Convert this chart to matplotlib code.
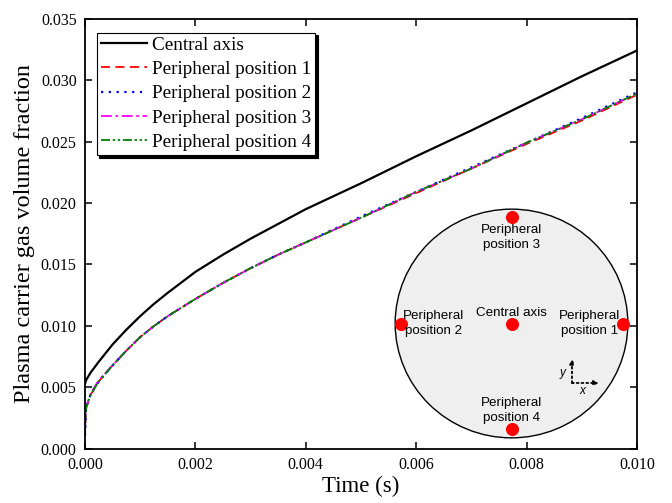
"""Carrier gas volume fraction at the central axis and four peripheral probes."""
import matplotlib
matplotlib.use("Agg")
import matplotlib.pyplot as plt
from matplotlib.patches import Circle
from matplotlib.ticker import FormatStrFormatter

# time samples (s)
time_s = [0.0, 0.00002, 0.0001, 0.00025, 0.0005, 0.00075, 0.001, 0.00125, 0.0015,
          0.002, 0.0025, 0.003, 0.0035, 0.004, 0.005, 0.006, 0.007, 0.008, 0.009, 0.010]

central_axis = [0.0053, 0.0056, 0.0062, 0.0071, 0.0085, 0.0097, 0.0108, 0.0118, 0.0127,
                0.0144, 0.0158, 0.0171, 0.0183, 0.0195, 0.0216, 0.0238, 0.0259, 0.0281,
                0.0303, 0.0324]
peripheral_1 = [0.0020, 0.0033, 0.0044, 0.0055, 0.0068, 0.0080, 0.0091, 0.0100, 0.0108,
                0.0122, 0.0135, 0.0147, 0.0158, 0.0168, 0.0188, 0.0208, 0.0228, 0.0248,
                0.0267, 0.0288]
peripheral_2 = [0.0011, 0.0034, 0.0044, 0.0055, 0.0068, 0.0080, 0.0091, 0.0100, 0.0108,
                0.0122, 0.0135, 0.0147, 0.0158, 0.0168, 0.0189, 0.0209, 0.0229, 0.0249,
                0.0269, 0.0290]
peripheral_3 = [0.0015, 0.0034, 0.0045, 0.0056, 0.0068, 0.0080, 0.0091, 0.0100, 0.0108,
                0.0122, 0.0135, 0.0147, 0.0158, 0.0168, 0.0188, 0.0209, 0.0228, 0.0249,
                0.0268, 0.0289]
peripheral_4 = [0.0012, 0.0034, 0.0044, 0.0055, 0.0068, 0.0080, 0.0091, 0.0100, 0.0108,
                0.0122, 0.0135, 0.0147, 0.0158, 0.0168, 0.0188, 0.0209, 0.0228, 0.0249,
                0.0268, 0.0289]

series_labels = ["Central axis", "Peripheral position 1", "Peripheral position 2",
                 "Peripheral position 3", "Peripheral position 4"]

# probe layout in the cross-section sketch (unit circle)
probe_names = ["Central axis", "Peripheral\nposition 1", "Peripheral\nposition 2",
               "Peripheral\nposition 3", "Peripheral\nposition 4"]
probe_x = [0.0, 0.96, -0.95, 0.0, 0.0]
probe_y = [0.0, 0.0, 0.0, 0.93, -0.92]
label_x = [0.0, 0.67, -0.67, 0.0, 0.0]
label_y = [0.09, 0.0, 0.0, 0.75, -0.76]

serif = ["Liberation Serif", "DejaVu Serif"]
sans = ["Liberation Sans", "DejaVu Sans"]
plt.rcParams["font.family"] = serif

fig = plt.figure(figsize=(6.72, 5.03), dpi=100)
ax = fig.add_axes([0.1265, 0.1074, 0.8214, 0.8558])

styles = [
    dict(color="black", linestyle="-", linewidth=1.6),
    dict(color="#ff0000", linestyle=(0, (5, 3)), linewidth=1.3),
    dict(color="#0000ff", linestyle=(0, (1, 2.5)), linewidth=1.6),
    dict(color="#ff00ff", linestyle=(0, (6, 2, 1.5, 2)), linewidth=1.3),
    dict(color="#008000", linestyle=(0, (5, 1.5, 1.3, 1.5, 1.3, 1.5)), linewidth=1.3),
]
all_series = [central_axis, peripheral_1, peripheral_2, peripheral_3, peripheral_4]
for values, label, st in zip(all_series, series_labels, styles):
    ax.plot(time_s, values, label=label, **st)

ax.set_xlim(0, 0.010)
ax.set_ylim(0, 0.035)
ax.set_xticks([0.0, 0.002, 0.004, 0.006, 0.008, 0.010])
ax.set_yticks([0.0, 0.005, 0.010, 0.015, 0.020, 0.025, 0.030, 0.035])
ax.xaxis.set_major_formatter(FormatStrFormatter("%.3f"))
ax.yaxis.set_major_formatter(FormatStrFormatter("%.3f"))
ax.tick_params(direction="in", length=5, width=1.1, top=True, right=True,
               labelsize=11.5, pad=6)
for sp in ax.spines.values():
    sp.set_linewidth(1.3)

ax.set_xlabel("Time (s)", fontsize=16.5, labelpad=2)
ax.set_ylabel("Plasma carrier gas volume fraction", fontsize=17.5, labelpad=4)

leg = ax.legend(loc="upper left", bbox_to_anchor=(96.7 / 672, 1 - 32.5 / 503),
                bbox_transform=fig.transFigure, borderaxespad=0,
                prop={"size": 13.8}, fancybox=False,
                shadow={"color": "black", "alpha": 1}, framealpha=1,
                edgecolor="black", handlelength=2.4, handletextpad=0.3,
                labelspacing=0.36, borderpad=0.2)
leg.get_frame().set_linewidth(0.8)

# cross-section sketch
ins = fig.add_axes([394 / 672, 64 / 503, 235 / 672, 231 / 503])
ins.set_xlim(-1.01, 1.01)
ins.set_ylim(-1.01, 1.01)
ins.axis("off")
ins.add_patch(Circle((0, 0), 1.0, facecolor="#efefef", edgecolor="black",
                     linewidth=1.0, clip_on=False))
ins.scatter(probe_x, probe_y, s=70, color="#ff0000", zorder=3, clip_on=False)
for name, lx, ly in zip(probe_names, label_x, label_y):
    ins.text(lx, ly, name, ha="center", va="center", family=sans, fontsize=9.6,
             linespacing=1.35)

ox, oy = 0.52, -0.52
ins.annotate("", xy=(ox + 0.23, oy), xytext=(ox, oy),
             arrowprops=dict(arrowstyle="-|>", linestyle=":", lw=1.3, color="black",
                             mutation_scale=7, shrinkA=0, shrinkB=0))
ins.annotate("", xy=(ox, oy + 0.21), xytext=(ox, oy),
             arrowprops=dict(arrowstyle="-|>", linestyle=":", lw=1.3, color="black",
                             mutation_scale=7, shrinkA=0, shrinkB=0))
ins.text(ox + 0.09, oy - 0.07, "x", style="italic", family=sans, fontsize=8.5,
         ha="center", va="center")
ins.text(ox - 0.08, oy + 0.09, "y", style="italic", family=sans, fontsize=8.5,
         ha="center", va="center")

fig.savefig("out.png", dpi=100)
